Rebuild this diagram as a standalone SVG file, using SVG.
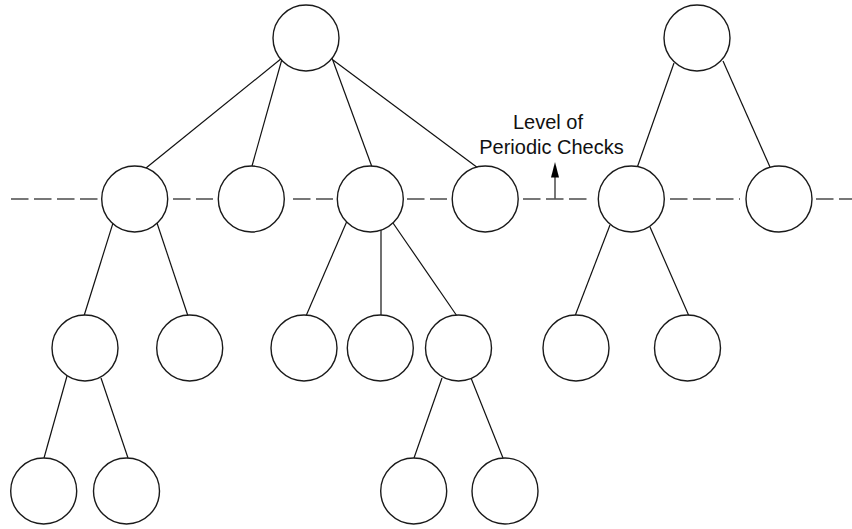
<svg xmlns="http://www.w3.org/2000/svg" width="852" height="529" viewBox="0 0 852 529">
<style>
.node{fill:#fff;stroke:#1a1a1a;stroke-width:1.4}
.edge{stroke:#111;stroke-width:1.2;fill:none}
.dash{stroke:#777;stroke-width:2;stroke-dasharray:17.5 5.5;fill:none}
.lbl{font-family:"Liberation Sans",Arial,sans-serif;font-size:20px;fill:#111;text-anchor:middle}
</style>
<rect width="852" height="529" fill="#fff"/>
<g id="level-line">
<line class="dash" x1="11" y1="199" x2="98" y2="199"/>
<line class="dash" x1="173" y1="199" x2="213" y2="199"/>
<line class="dash" x1="293" y1="199" x2="333" y2="199"/>
<line class="dash" x1="407" y1="199" x2="447" y2="199"/>
<line class="dash" x1="523" y1="199" x2="587" y2="199"/>
<line class="dash" x1="670" y1="199" x2="740" y2="199"/>
<line class="dash" x1="816" y1="199" x2="852" y2="199"/>
</g>
<g id="connectors">
<line class="edge" x1="282" y1="58" x2="146" y2="168"/>
<line class="edge" x1="282" y1="59" x2="252" y2="166"/>
<line class="edge" x1="332" y1="58" x2="372" y2="167"/>
<line class="edge" x1="333" y1="60" x2="478" y2="168"/>
<line class="edge" x1="674" y1="63" x2="637" y2="168"/>
<line class="edge" x1="723" y1="61" x2="770" y2="167"/>
<line class="edge" x1="113" y1="223" x2="84" y2="316"/>
<line class="edge" x1="157" y1="223" x2="188" y2="316"/>
<line class="edge" x1="347" y1="221" x2="306" y2="316"/>
<line class="edge" x1="381" y1="230" x2="381" y2="316"/>
<line class="edge" x1="393" y1="223" x2="457" y2="316"/>
<line class="edge" x1="610" y1="225" x2="575" y2="316"/>
<line class="edge" x1="650" y1="227" x2="689" y2="316"/>
<line class="edge" x1="67" y1="376" x2="44" y2="458"/>
<line class="edge" x1="101" y1="378" x2="128" y2="458"/>
<line class="edge" x1="442" y1="378" x2="414" y2="458"/>
<line class="edge" x1="471" y1="378" x2="503" y2="458"/>
</g>
<g id="root1"><circle class="node" cx="306" cy="38" r="33"/></g>
<g id="root2"><circle class="node" cx="697" cy="38" r="33"/></g>
<g id="n1a"><circle class="node" cx="134.7" cy="199" r="33"/></g>
<g id="n1b"><circle class="node" cx="251.3" cy="199" r="33"/></g>
<g id="n1c"><circle class="node" cx="370.3" cy="199" r="33"/></g>
<g id="n1d"><circle class="node" cx="485.2" cy="199" r="33"/></g>
<g id="n1e"><circle class="node" cx="631.3" cy="199" r="33"/></g>
<g id="n1f"><circle class="node" cx="779" cy="199" r="33"/></g>
<g id="n2a"><circle class="node" cx="85" cy="348" r="33"/></g>
<g id="n2b"><circle class="node" cx="189.7" cy="348" r="33"/></g>
<g id="n2c"><circle class="node" cx="304" cy="348" r="33"/></g>
<g id="n2d"><circle class="node" cx="380.3" cy="348" r="33"/></g>
<g id="n2e"><circle class="node" cx="458.5" cy="348" r="33"/></g>
<g id="n2f"><circle class="node" cx="576" cy="348" r="33"/></g>
<g id="n2g"><circle class="node" cx="687.5" cy="348" r="33"/></g>
<g id="n3a"><circle class="node" cx="43.7" cy="491" r="33"/></g>
<g id="n3b"><circle class="node" cx="126.5" cy="491" r="33"/></g>
<g id="n3c"><circle class="node" cx="413.7" cy="491" r="33"/></g>
<g id="n3d"><circle class="node" cx="505" cy="491" r="33"/></g>
<g id="label">
<line x1="555" y1="199" x2="555" y2="176" stroke="#555" stroke-width="1.6"/>
<polygon points="555,162 551,177.5 559,177.5" fill="#000"/>
<text class="lbl" x="548" y="128.5">Level of</text>
<text class="lbl" x="551.5" y="154">Periodic Checks</text>
</g>
</svg>
